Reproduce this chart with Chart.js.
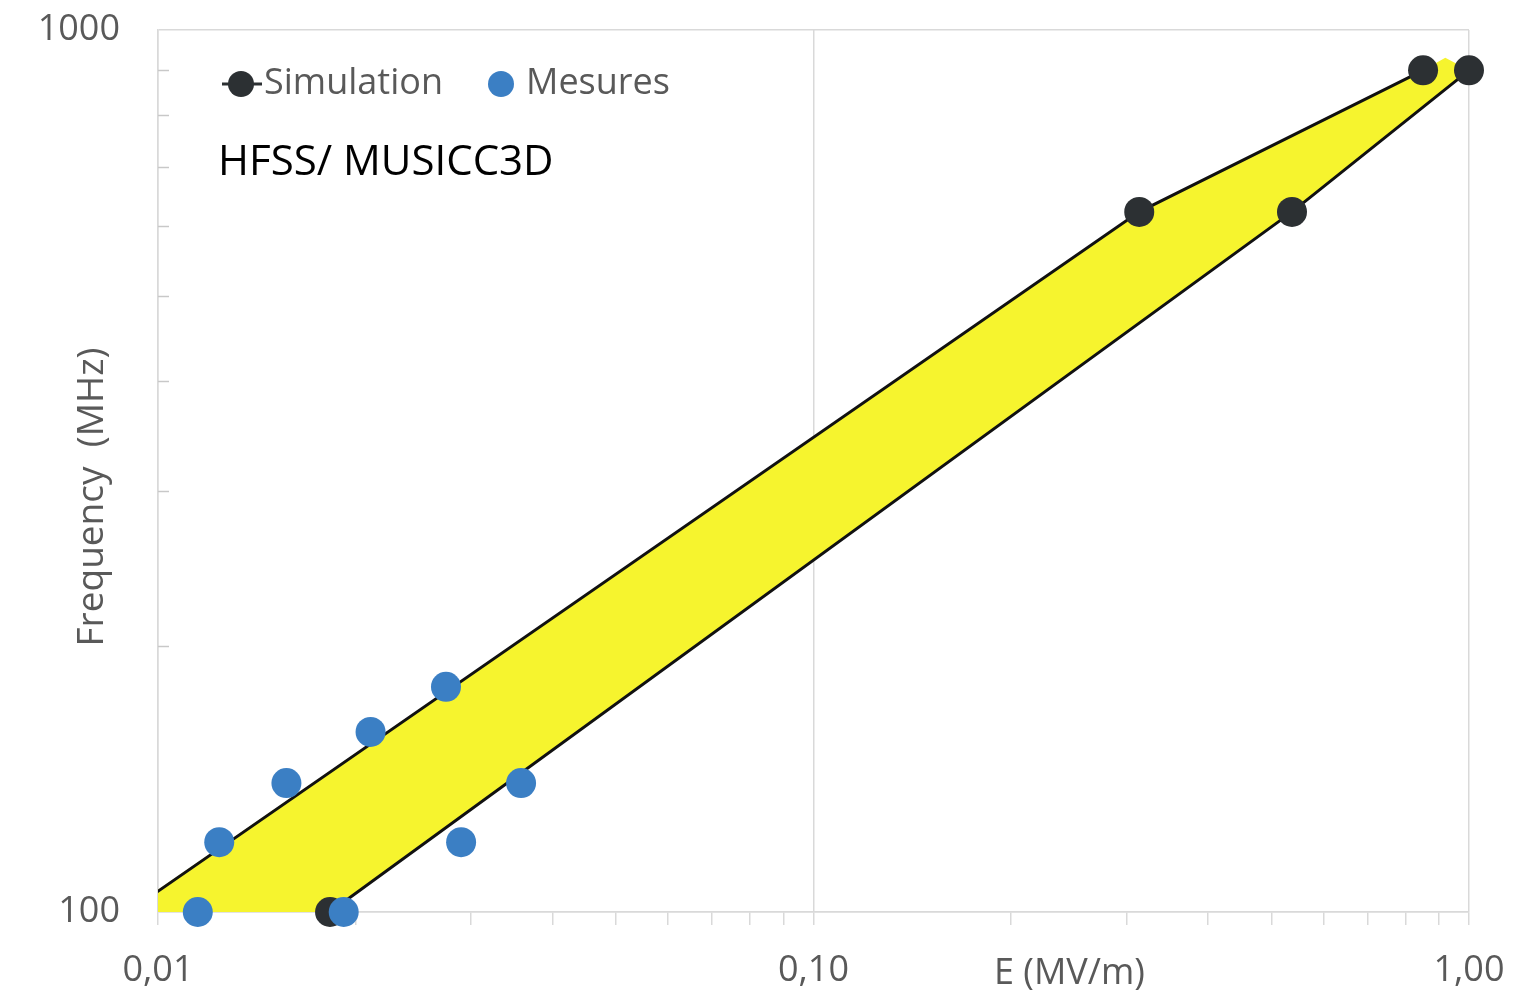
<!DOCTYPE html>
<html>
<head>
<meta charset="utf-8">
<script src="https://cdn.jsdelivr.net/npm/chart.js@4.4.1/dist/chart.umd.min.js"></script>
<style>
  html,body{margin:0;padding:0;background:#fff;}
  #wrap{width:1536px;height:1000px;position:relative;}
</style>
</head>
<body>
<div id="wrap"><canvas id="c" width="1536" height="1000"></canvas></div>
<script>
// ---- data ----
const simUpperE = [0.009, 0.314, 0.851];
const simUpperF = [100, 622, 900];
const simLowerE = [0.0183, 0.537, 1.0];
const simLowerF = [100, 622, 900];
const mesE = [0.0115, 0.0124, 0.0157, 0.0211, 0.0275, 0.0192, 0.029, 0.0358];
const mesF = [100, 120, 140, 160, 180, 100, 120, 140];
// hand-drawn yellow band outline
const bandE = [0.01, 0.314, 0.851, 0.92, 1.0, 0.537, 0.0183, 0.01];
const bandF = [106, 622, 900, 930, 900, 622, 100, 100];
// axis ticks
const xTicks = [0.01,0.02,0.03,0.04,0.05,0.06,0.07,0.08,0.09,0.1,0.2,0.3,0.4,0.5,0.6,0.7,0.8,0.9,1.0];
const xMajor = [0.01, 0.1, 1.0];
const xLabels = {0.01:'0,01', 0.1:'0,10', 1:'1,00'};
const yTicks = [100,200,300,400,500,600,700,800,900,1000];
const yMajor = [100, 1000];
const yLabels = {100:'100', 1000:'1000'};

const FONT = "'Open Sans', 'Noto Sans', sans-serif";
const GRAY_TXT = '#595959';
const GRID = '#d9d9d9';
const YELLOW = '#f6f42e';
const BLUE = '#3b7fc4';
const DARK = '#2c3033';

const pts = (xs, ys) => xs.map((v, i) => ({x: v, y: ys[i]}));
const isMajor = (list, v) => list.some(m => Math.abs(m - v) < 1e-9);

const overlay = {
  id: 'overlay',
  beforeDatasetsDraw(chart) {
    const {ctx, chartArea: a, scales: {y}} = chart;
    ctx.save();
    // inward minor ticks on the frequency axis
    ctx.strokeStyle = '#c8c8c8';
    ctx.lineWidth = 1.5;
    yTicks.forEach(v => {
      if (isMajor(yMajor, v)) return;
      const py = Math.round(y.getPixelForValue(v)) + 0.5;
      ctx.beginPath(); ctx.moveTo(a.left, py); ctx.lineTo(a.left + 11, py); ctx.stroke();
    });
    // frequency tick labels
    ctx.font = '36px ' + FONT;
    ctx.fillStyle = GRAY_TXT;
    ctx.textAlign = 'right';
    ctx.textBaseline = 'middle';
    yTicks.forEach(v => {
      if (!(v in yLabels)) return;
      ctx.fillText(yLabels[v], a.left - 38, y.getPixelForValue(v));
    });
    // frequency axis title
    ctx.save();
    ctx.translate(a.left - 66, a.top + 467);
    ctx.rotate(-Math.PI / 2);
    ctx.textAlign = 'center';
    ctx.font = '37px ' + FONT;
    ctx.fillText('Frequency  (MHz)', 0, 0);
    ctx.restore();
    ctx.restore();
  },
  afterDraw(chart) {
    const {ctx, chartArea: a} = chart;
    ctx.save();
    // legend
    const ly = a.top + 54;
    ctx.strokeStyle = DARK; ctx.lineWidth = 3;
    ctx.beginPath(); ctx.moveTo(a.left + 64, ly); ctx.lineTo(a.left + 104, ly); ctx.stroke();
    ctx.fillStyle = DARK;
    ctx.beginPath(); ctx.arc(a.left + 83, ly, 13, 0, Math.PI * 2); ctx.fill();
    ctx.fillStyle = BLUE;
    ctx.beginPath(); ctx.arc(a.left + 343, ly, 13, 0, Math.PI * 2); ctx.fill();
    ctx.font = '36px ' + FONT;
    ctx.fillStyle = GRAY_TXT;
    ctx.textBaseline = 'middle';
    ctx.textAlign = 'left';
    ctx.fillText('Simulation', a.left + 106, ly);
    ctx.fillText('Mesures', a.left + 368, ly);
    // annotation
    ctx.font = '42px ' + FONT;
    ctx.fillStyle = '#000';
    ctx.fillText('HFSS/ MUSICC3D', a.left + 60, a.top + 133);
    // x axis title (sits on the tick-label row)
    ctx.font = '36px ' + FONT;
    ctx.fillStyle = GRAY_TXT;
    ctx.fillText('E (MV/m)', a.left + 836, a.bottom + 62);
    ctx.restore();
  }
};

new Chart(document.getElementById('c'), {
  type: 'scatter',
  data: {
    datasets: [
      {
        label: 'Mesures',
        data: pts(mesE, mesF),
        backgroundColor: BLUE, borderColor: BLUE,
        pointRadius: 15, pointBorderWidth: 0,
        showLine: false, clip: false, order: 1
      },
      {
        label: 'Simulation',
        data: pts(simUpperE, simUpperF),
        showLine: true, borderColor: '#111', borderWidth: 3,
        backgroundColor: DARK, pointBackgroundColor: DARK, pointBorderColor: DARK,
        pointRadius: 15, pointBorderWidth: 0, fill: false,
        clip: {left: 0, top: 40, right: 40, bottom: 40}, order: 2
      },
      {
        label: 'Simulation ',
        data: pts(simLowerE, simLowerF),
        showLine: true, borderColor: '#111', borderWidth: 3,
        backgroundColor: DARK, pointBackgroundColor: DARK, pointBorderColor: DARK,
        pointRadius: 15, pointBorderWidth: 0, fill: false,
        clip: {left: 0, top: 40, right: 40, bottom: 40}, order: 3
      },
      {
        label: 'band',
        data: pts(bandE, bandF),
        showLine: true, borderColor: 'rgba(0,0,0,0)', borderWidth: 0,
        backgroundColor: YELLOW, pointRadius: 0, fill: 'shape',
        clip: false, order: 4
      }
    ]
  },
  options: {
    responsive: false,
    animation: false,
    events: [],
    layout: {padding: {left: 0, right: 67, top: 30, bottom: 0}},
    plugins: {legend: {display: false}, tooltip: {enabled: false}},
    scales: {
      x: {
        type: 'logarithmic',
        min: 0.01, max: 1.0,
        afterBuildTicks: s => { s.ticks = xTicks.map(v => ({value: v, major: isMajor(xMajor, v)})); },
        afterFit: s => { s.height = 88; },
        border: {display: true, color: GRID, width: 1.5},
        grid: {
          color: c => (c.tick && isMajor(xMajor, c.tick.value)) ? GRID : 'rgba(0,0,0,0)',
          tickColor: GRID, tickLength: 13, lineWidth: 1.5, drawTicks: true
        },
        ticks: {
          autoSkip: false, maxRotation: 0, padding: 24,
          color: GRAY_TXT, font: {family: FONT, size: 36},
          callback: v => { for (const k in xLabels) { if (Math.abs(+k - v) < 1e-9) return xLabels[k]; } return ''; }
        }
      },
      y: {
        type: 'logarithmic',
        min: 100, max: 1000,
        afterBuildTicks: s => { s.ticks = yTicks.map(v => ({value: v, major: isMajor(yMajor, v)})); },
        afterFit: s => { s.width = 158; },
        border: {display: true, color: GRID, width: 1.5},
        grid: {
          color: c => (c.tick && isMajor(yMajor, c.tick.value)) ? GRID : 'rgba(0,0,0,0)',
          lineWidth: 1.5, drawTicks: false
        },
        ticks: {display: false},
        title: {display: false}
      }
    }
  },
  plugins: [overlay]
});
</script>
</body>
</html>
